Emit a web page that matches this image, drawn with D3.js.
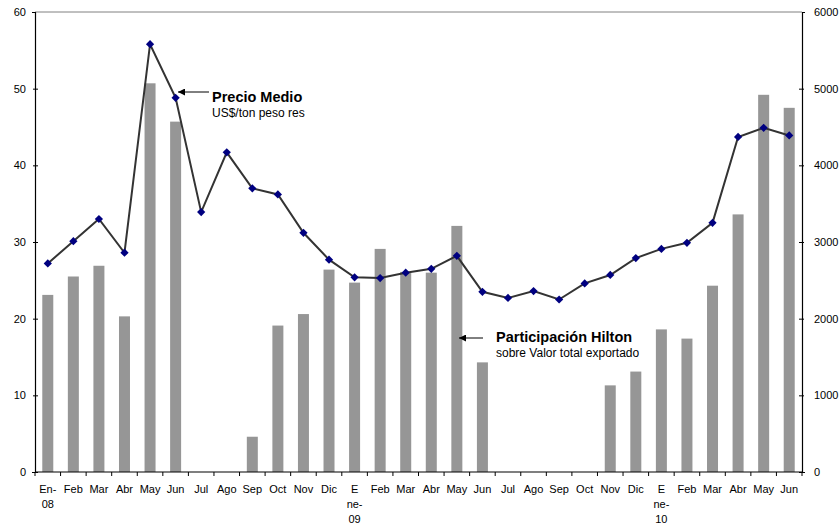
<!DOCTYPE html>
<html>
<head>
<meta charset="utf-8">
<script src="https://cdn.jsdelivr.net/npm/d3@7"></script>
<style>
  body { margin: 0; background: #fff; }
  text { font-family: "Liberation Sans", Arial, sans-serif; }
</style>
</head>
<body>
<svg id="chart" width="839" height="525"></svg>
<script>
// categorías (meses) - cada etiqueta puede tener varias líneas
var meses = [
  ['En-', '08'], ['Feb'], ['Mar'], ['Abr'], ['May'], ['Jun'], ['Jul'], ['Ago'], ['Sep'], ['Oct'], ['Nov'], ['Dic'],
  ['E', 'ne-', '09'], ['Feb'], ['Mar'], ['Abr'], ['May'], ['Jun'], ['Jul'], ['Ago'], ['Sep'], ['Oct'], ['Nov'], ['Dic'],
  ['E', 'ne-', '10'], ['Feb'], ['Mar'], ['Abr'], ['May'], ['Jun']
];

// Participación Hilton (eje izquierdo, barras)
var participacion = [
  23.1, 25.5, 26.9, 20.3, 50.7, 45.7, 0, 0, 4.6, 19.1, 20.6, 26.4,
  24.7, 29.1, 26.1, 26.0, 32.1, 14.3, 0, 0, 0, 0, 11.3, 13.1,
  18.6, 17.4, 24.3, 33.6, 49.2, 47.5
];

// Precio Medio US$/ton peso res (eje derecho, línea)
var precio = [
  2720, 3010, 3300, 2860, 5580, 4880, 3390, 4170, 3700, 3620, 3120, 2770,
  2540, 2530, 2600, 2650, 2820, 2350, 2270, 2360, 2250, 2460, 2570, 2790,
  2910, 2990, 3250, 4370, 4490, 4390
];

var ticksIzq = [0, 10, 20, 30, 40, 50, 60];
var ticksDer = [0, 1000, 2000, 3000, 4000, 5000, 6000];

var svg = d3.select('#chart');
var mLeft = 35, mRight = 802, mTop = 12, mBottom = 472;

var x = d3.scaleBand()
  .domain(d3.range(meses.length))
  .range([mLeft, mRight])
  .padding(0);

var yIzq = d3.scaleLinear().domain([0, 60]).range([mBottom, mTop]);
var yDer = d3.scaleLinear().domain([0, 6000]).range([mBottom, mTop]);

// borde superior
svg.append('line')
  .attr('x1', mLeft).attr('x2', mRight)
  .attr('y1', mTop).attr('y2', mTop)
  .attr('stroke', '#808080');

// barras
var bw = x.bandwidth();
svg.append('g')
  .selectAll('rect')
  .data(participacion)
  .enter()
  .append('rect')
  .attr('x', function(d, i) { return x(i) + bw * 0.285; })
  .attr('width', bw * 0.43)
  .attr('y', function(d) { return yIzq(d); })
  .attr('height', function(d) { return mBottom - yIzq(d); })
  .attr('fill', '#969696');

// eje izquierdo
var gIzq = svg.append('g')
  .attr('transform', 'translate(' + mLeft + ',0)')
  .call(d3.axisLeft(yIzq).tickValues(ticksIzq).tickSize(3).tickPadding(6));
gIzq.selectAll('.tick line').attr('x1', 3).attr('x2', -2);

// eje derecho
var gDer = svg.append('g')
  .attr('transform', 'translate(' + mRight + ',0)')
  .call(d3.axisRight(yDer).tickValues(ticksDer).tickFormat(d3.format('d'))
    .tickSize(3).tickPadding(9));
gDer.selectAll('.tick line').attr('x1', -3).attr('x2', 2);

[gIzq, gDer].forEach(function(g) {
  g.select('.domain').attr('stroke', '#000').attr('stroke-width', 1.2);
  g.selectAll('.tick text').attr('font-size', 11).attr('fill', '#000')
    .attr('font-family', '"Liberation Sans", Arial, sans-serif');
  g.selectAll('.tick line').attr('stroke', '#000');
  g.selectAll('.tick').filter(function(d) { return d === 60 || d === 6000; })
    .select('line').remove();
});

// eje x
var gx = svg.append('g');
gx.append('line')
  .attr('x1', mLeft).attr('x2', mRight)
  .attr('y1', mBottom).attr('y2', mBottom)
  .attr('stroke', '#000').attr('stroke-width', 1.2);
gx.selectAll('line.tk')
  .data(d3.range(meses.length + 1))
  .enter()
  .append('line')
  .attr('class', 'tk')
  .attr('x1', function(i) { return i < meses.length ? x(i) : mRight; })
  .attr('x2', function(i) { return i < meses.length ? x(i) : mRight; })
  .attr('y1', mBottom).attr('y2', mBottom + 4)
  .attr('stroke', '#000');

var etiquetas = gx.selectAll('text')
  .data(meses)
  .enter()
  .append('text')
  .attr('text-anchor', 'middle')
  .attr('font-size', 11)
  .attr('fill', '#000');
etiquetas.selectAll('tspan')
  .data(function(d, i) { return d.map(function(s) { return { s: s, i: i }; }); })
  .enter()
  .append('tspan')
  .attr('x', function(d) { return x(d.i) + bw / 2; })
  .attr('y', function(d, j) { return 493 + j * 15; })
  .text(function(d) { return d.s; });

// línea de precio
var linea = d3.line()
  .x(function(d, i) { return x(i) + bw / 2; })
  .y(function(d) { return yDer(d); });

svg.append('path')
  .datum(precio)
  .attr('d', linea)
  .attr('fill', 'none')
  .attr('stroke', '#333333')
  .attr('stroke-width', 2);

svg.append('g')
  .selectAll('path')
  .data(precio)
  .enter()
  .append('path')
  .attr('d', d3.symbol().type(d3.symbolSquare).size(34))
  .attr('transform', function(d, i) {
    return 'translate(' + (x(i) + bw / 2) + ',' + yDer(d) + ') rotate(45)';
  })
  .attr('fill', '#000080');

// flechas y anotaciones
svg.append('defs').append('marker')
  .attr('id', 'flecha')
  .attr('viewBox', '0 0 10 10')
  .attr('refX', 10).attr('refY', 5)
  .attr('markerWidth', 7).attr('markerHeight', 7)
  .attr('markerUnits', 'userSpaceOnUse')
  .attr('orient', 'auto')
  .append('path')
  .attr('d', 'M0,0 L10,5 L0,10 Z')
  .attr('fill', '#000');

function anotacion(x1, x2, y, tx, ty, titulo, sub) {
  svg.append('line')
    .attr('x1', x1).attr('x2', x2)
    .attr('y1', y).attr('y2', y)
    .attr('stroke', '#000').attr('stroke-width', 1)
    .attr('marker-end', 'url(#flecha)');
  svg.append('text')
    .attr('x', tx).attr('y', ty)
    .attr('font-size', 14.5).attr('font-weight', 'bold')
    .text(titulo);
  svg.append('text')
    .attr('x', tx).attr('y', ty + 15)
    .attr('font-size', 12)
    .text(sub);
}

anotacion(209, 178, 92, 212, 102, 'Precio Medio', 'US$/ton peso res');
anotacion(483, 459, 338, 496, 342, 'Participación Hilton', 'sobre Valor total exportado');
</script>
</body>
</html>
